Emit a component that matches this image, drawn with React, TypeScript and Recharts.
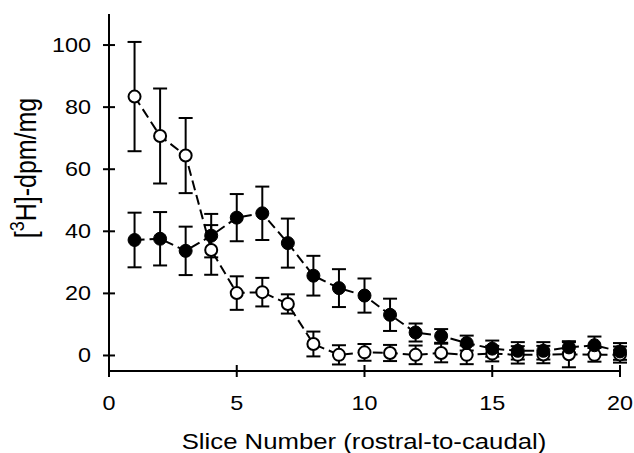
import React from 'react'
import { LineChart, Line, XAxis, YAxis, ErrorBar } from 'recharts'

const slices = [1, 2, 3, 4, 5, 6, 7, 8, 9, 10, 11, 12, 13, 14, 15, 16, 17, 18, 19, 20]
const openVals = [83.4, 70.7, 64.4, 34.0, 20.1, 20.4, 16.6, 3.7, 0.2, 1.0, 0.8, 0.2, 0.8, 0.2, 0.6, 0.2, 0.3, 0.4, 0.2, 0.3]
const openErr = [17.6, 15.3, 12.1, 8.0, 5.4, 4.6, 3.1, 4.0, 3.1, 2.7, 2.6, 3.0, 3.0, 3.0, 2.5, 2.8, 2.8, 4.2, 2.2, 2.6]
const filledVals = [37.2, 37.6, 33.7, 38.6, 44.4, 45.8, 36.2, 25.7, 21.7, 19.3, 13.1, 7.4, 6.3, 4.0, 2.2, 1.5, 1.5, 2.6, 3.3, 1.3]
const filledErr = [8.8, 8.6, 7.8, 7.0, 7.6, 8.6, 7.9, 6.4, 6.1, 5.5, 5.2, 2.9, 2.2, 2.4, 2.6, 2.8, 2.8, 1.7, 2.8, 2.7]
const xTicks = [0, 5, 10, 15, 20]
const yTicks = [0, 20, 40, 60, 80, 100]

const data = slices.map((s, i) => ({
  slice: s,
  open: openVals[i],
  openErr: openErr[i],
  filled: filledVals[i],
  filledErr: filledErr[i],
}))

const FONT = '"Liberation Sans", Arial, sans-serif'
const SX = 1.17 // text in the figure is a bit wider than Arial

const YTick = (props: any) => {
  const { x, y, payload } = props
  return (
    <g>
      <line x1={x + 12} x2={x + 24} y1={y} y2={y} stroke="#000" strokeWidth={2} />
      <text transform={`translate(${x} ${y + 7}) scale(${SX} 1)`} textAnchor="end" fontFamily={FONT} fontSize={20} fill="#000">
        {payload.value}
      </text>
    </g>
  )
}

const XTick = (props: any) => {
  const { x, y, payload } = props
  return (
    <g>
      <line x1={x} x2={x} y1={y - 30} y2={y - 18} stroke="#000" strokeWidth={2} />
      <text transform={`translate(${x} ${y + 14.5}) scale(${SX} 1)`} textAnchor="middle" fontFamily={FONT} fontSize={20} fill="#000">
        {payload.value}
      </text>
    </g>
  )
}

const XLabel = () => (
  <text transform={`translate(364 449) scale(${SX} 1)`} textAnchor="middle" fontFamily={FONT} fontSize={22} fill="#000">
    Slice Number (rostral-to-caudal)
  </text>
)

const YLabel = () => (
  <g transform={`translate(36 168) scale(${SX} 1) rotate(-90)`}>
    <text x={0} y={0} textAnchor="middle" fontFamily={FONT} fontSize={25} fill="#000">
      [<tspan baselineShift="super" fontSize={18}>3</tspan>H]-dpm/mg
    </text>
  </g>
)

const OpenDot = (props: any) => {
  const { cx, cy } = props
  return <circle cx={cx} cy={cy} r={6} fill="#fff" stroke="#000" strokeWidth={2} />
}

const FilledDot = (props: any) => {
  const { cx, cy } = props
  return <circle cx={cx} cy={cy} r={6.5} fill="#000" stroke="#000" strokeWidth={1} />
}

export default function App() {
  return (
    <div style={{ position: 'absolute', left: 0, top: 0, background: '#fff' }}>
      <LineChart width={634} height={453} data={data} margin={{ top: 14, right: 14, left: 0, bottom: 0 }}>
        <XAxis
          dataKey="slice"
          type="number"
          domain={[0, 20]}
          ticks={xTicks}
          interval={0}
          height={82}
          tickSize={6}
          tickMargin={18}
          tickLine={false}
          tick={<XTick />}
          axisLine={{ stroke: '#000', strokeWidth: 2 }}
          label={{ content: () => <XLabel /> }}
        />
        <YAxis
          type="number"
          domain={[-5, 110]}
          ticks={yTicks}
          interval={0}
          width={109}
          tickSize={6}
          tickMargin={12}
          tickLine={false}
          tick={<YTick />}
          axisLine={{ stroke: '#000', strokeWidth: 2 }}
          label={{ content: () => <YLabel /> }}
        />
        <Line
          dataKey="open"
          stroke="#000"
          strokeWidth={2}
          strokeDasharray="10 5"
          dot={<OpenDot />}
          activeDot={false}
          isAnimationActive={false}
        >
          <ErrorBar dataKey="openErr" direction="y" width={7} stroke="#000" strokeWidth={2} isAnimationActive={false} />
        </Line>
        <Line
          dataKey="filled"
          stroke="#000"
          strokeWidth={2}
          strokeDasharray="10 5"
          dot={<FilledDot />}
          activeDot={false}
          isAnimationActive={false}
        >
          <ErrorBar dataKey="filledErr" direction="y" width={7} stroke="#000" strokeWidth={2} isAnimationActive={false} />
        </Line>
      </LineChart>
    </div>
  )
}
